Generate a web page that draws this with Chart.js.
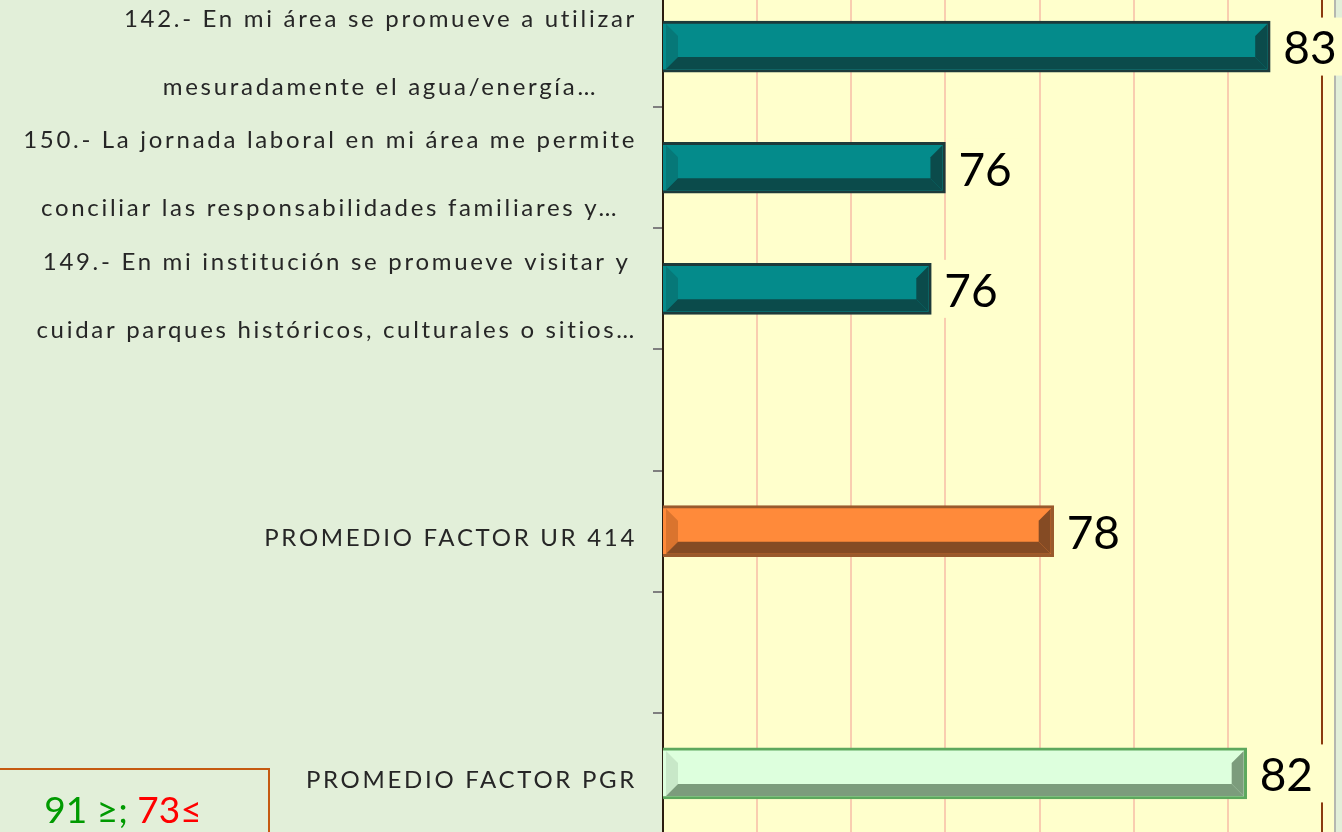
<!DOCTYPE html>
<html>
<head>
<meta charset="utf-8">
<script src="https://cdn.jsdelivr.net/npm/chart.js@4/dist/chart.umd.min.js"></script>
<style>
    body { margin: 0; width: 1342px; height: 832px; overflow: hidden; background: #E2EFD9; position: relative; }
    #wrap { position: absolute; left: 0; top: -14px; width: 1342px; height: 848px; }
    #limits {
        position: absolute; left: -2px; top: 768px; width: 272px; height: 80px;
        border: 2px solid #C55A11; box-sizing: border-box;
        font-family: Lato, sans-serif; font-size: 37px; text-align: center; padding-right: 22px;
        line-height: 78px;
    }
    #limits .hi { color: #009A00; }
    #limits .lo { color: #FF0000; }
</style>
</head>
<body>
<div id="wrap"><canvas id="chart" width="1342" height="848"></canvas></div>
<div id="limits"><span class="hi">91 ≥;</span> <span class="lo">73≤</span></div>
<script>
const categories = [
    ['142.- En mi área se promueve a utilizar', 'mesuradamente el agua/energía…'],
    ['150.- La jornada laboral en mi área me permite', 'conciliar las responsabilidades familiares y…'],
    ['149.- En mi institución se promueve visitar y', 'cuidar parques históricos, culturales o sitios…'],
    [''],
    ['PROMEDIO FACTOR UR 414'],
    [''],
    ['PROMEDIO FACTOR PGR']
]
const values = [82.9, 76.0, 75.7, null, 78.3, null, 82.4]
const valueLabels = ['83', '76', '76', '', '78', '', '82']

const faceColors   = ['#048B8B', '#048B8B', '#048B8B', null, '#FF8A3A', null, '#DDFFDD']
const sideColors   = ['#067878', '#067878', '#067878', null, '#DA742E', null, '#C8E8C8']
const darkColors   = ['#0B4B4B', '#0B4B4B', '#0B4B4B', null, '#854B24', null, '#7C9C7C']
const borderColors = ['#1D3A3A', '#1D3A3A', '#1D3A3A', null, '#9A5A2C', null, '#5DA85D']

const plotYellow = '#FFFFCC'

function poly(ctx, pts, color) {
    ctx.beginPath()
    ctx.moveTo(pts[0][0], pts[0][1])
    for (let k = 1; k < pts.length; k++) ctx.lineTo(pts[k][0], pts[k][1])
    ctx.closePath()
    ctx.fillStyle = color
    ctx.fill()
}

// fondo amarillo del área de trazado (un poco más ancho que el eje)
const backgroundPlugin = {
    id: 'plotBackground',
    beforeDraw(chart) {
        const { ctx, chartArea } = chart
        ctx.save()
        ctx.fillStyle = plotYellow
        ctx.fillRect(chartArea.left, 0, chartArea.right - chartArea.left + 12, chart.height)
        ctx.fillStyle = '#B5B8B0'
        ctx.fillRect(chartArea.right + 12, 0, 2, chart.height)
        ctx.restore()
    }
}

// biselado de las barras + etiquetas de valor
const bevelPlugin = {
    id: 'bevel',
    afterDatasetsDraw(chart) {
        const ctx = chart.ctx
        const meta = chart.getDatasetMeta(0)
        const area = chart.chartArea
        ctx.save()
        meta.data.forEach((bar, i) => {
            if (values[i] == null) return
            const p = bar.getProps(['x', 'y', 'base', 'height'], true)
            const bw = 3
            const l = Math.max(p.base, area.left) + bw, r = p.x - bw
            const t = p.y - p.height / 2 + bw, b = p.y + p.height / 2 - bw
            const s = 12
            poly(ctx, [[l, t], [l + s, t + s], [l + s, b - s], [l, b]], sideColors[i])
            poly(ctx, [[r, t], [r, b], [r - s, b - s], [r - s, t + s]], darkColors[i])
            poly(ctx, [[l, b], [r, b], [r - s, b - s], [l + s, b - s]], darkColors[i])

            // etiqueta
            ctx.font = '46px Lato, sans-serif'
            const tw = ctx.measureText(valueLabels[i]).width
            ctx.fillStyle = plotYellow
            ctx.fillRect(p.x + 1, p.y - 29, tw + 22, 58)
            ctx.fillStyle = '#000000'
            ctx.textAlign = 'left'
            ctx.textBaseline = 'middle'
            ctx.fillText(valueLabels[i], p.x + 13, p.y + 3)
        })
        ctx.restore()
    }
}

// etiquetas de categoría: bloque alineado a la derecha, líneas centradas
const categoryLabelPlugin = {
    id: 'categoryLabels',
    afterDraw(chart) {
        const ctx = chart.ctx
        const yScale = chart.scales.y
        const rightEdge = chart.chartArea.left - 26
        ctx.save()
        ctx.font = '400 24px Lato, "Open Sans", sans-serif'
        ctx.letterSpacing = '2.7px'
        ctx.fillStyle = '#262626'
        ctx.textAlign = 'center'
        ctx.textBaseline = 'middle'
        categories.forEach((lines, i) => {
            const y = yScale.getPixelForValue(i)
            const widest = Math.max(...lines.map(s => ctx.measureText(s).width))
            const cx = rightEdge - widest / 2
            if (lines.length === 2) {
                ctx.fillText(lines[0], cx, y - 27)
                ctx.fillText(lines[1], cx, y + 41)
            } else {
                ctx.fillText(lines[0], cx, y + 7)
            }
        })
        ctx.restore()
    }
}

const ctx = document.getElementById('chart').getContext('2d')
new Chart(ctx, {
    type: 'bar',
    data: {
        labels: categories.map((c, i) => 'c' + i),
        datasets: [{
            data: values,
            backgroundColor: faceColors,
            borderColor: borderColors,
            borderWidth: 3,
            borderSkipped: false,
            barThickness: 51
        }]
    },
    options: {
        indexAxis: 'y',
        responsive: false,
        animation: false,
        layout: { padding: { top: 0, right: 20, bottom: 0, left: 0 } },
        plugins: {
            legend: { display: false },
            tooltip: { enabled: false }
        },
        scales: {
            x: {
                min: 70,
                max: 84,
                ticks: { display: false, stepSize: 2 },
                border: { display: false },
                grid: {
                    drawTicks: false,
                    color: c => c.tick.value === 84 ? '#8B3A0F' : (c.tick.value === 70 ? '#2B1D10' : '#F9CDB0'),
                    lineWidth: c => c.tick.value === 84 ? 2 : 2
                },
                afterFit(s) { s.height = 0 }
            },
            y: {
                ticks: { display: false },
                border: { display: true, color: '#2B1D10', width: 2 },
                grid: {
                    drawOnChartArea: false,
                    drawTicks: true,
                    tickLength: 10,
                    color: '#7F7F7F',
                    lineWidth: 2,
                    offset: true
                },
                afterFit(s) { s.width = 663 }
            }
        }
    },
    plugins: [backgroundPlugin, bevelPlugin, categoryLabelPlugin]
})
</script>
</body>
</html>
